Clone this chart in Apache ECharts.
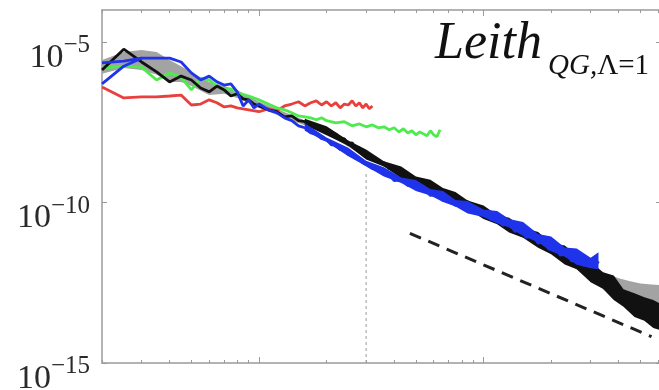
<!DOCTYPE html>
<html><head><meta charset="utf-8">
<script src="https://cdn.jsdelivr.net/npm/echarts@6/dist/echarts.min.js"></script>
<style>html,body{margin:0;padding:0;background:#fff}#c{width:659px;height:390px}</style>
</head><body><div id="c"></div>
<script>
// wavenumbers and log10 of spectral values
const kRed = [2,2.5,3,3.5,4,4.5,5,5.5,6,6.5,7,7.5,8,9,10,11,12,13,14,15,16,17,18,19,20,21,22,23,24,25,26,27,28,29,30,31,32];
const logRed = [-6.40,-6.74,-6.71,-6.71,-6.68,-6.65,-6.96,-6.93,-6.80,-6.89,-7.02,-6.99,-7.05,-7.11,-7.17,-7.08,-7.14,-6.99,-6.93,-6.86,-6.99,-6.89,-6.83,-6.96,-6.86,-6.99,-6.89,-7.05,-6.93,-6.96,-6.83,-6.99,-6.89,-7.05,-6.93,-7.08,-6.99];

const kGreen = [2,2.5,3,3.5,4,4.5,5,5.5,6,6.5,7,7.5,8,9,10,11,12,13,14,15,16,17,18,19,20,22,24,26,28,30,32,34,36,38,40,42,44,46,48,50,52,54,56,58,60,62,64];
const logGreen = [-5.81,-5.75,-5.78,-6.18,-5.96,-6.09,-6.49,-6.12,-6.18,-6.37,-6.49,-6.46,-6.58,-6.68,-6.80,-6.93,-7.05,-7.11,-7.20,-7.30,-7.33,-7.36,-7.42,-7.36,-7.45,-7.52,-7.48,-7.61,-7.55,-7.64,-7.58,-7.67,-7.64,-7.73,-7.67,-7.80,-7.70,-7.83,-7.76,-7.89,-7.80,-7.86,-7.92,-7.76,-7.89,-7.95,-7.73];

const kBlack = [2,2.5,3,3.5,4,4.5,5,5.5,6,6.5,7,7.5,8,8.5,9,9.5,10,11,12,13,14,15,16,17,18,19,20,21,22,23,24,25,26,27,28,29,30,32,34,36,38,40,43,46,49,52,55,58,62,66,70,75,80,85,90,96,102,108,115,122,130,138,146,155,165,175,185,196,208,220,233,247,262,278,295,312,330,350,370,392,415,440,466,494,523,554,586,620];
const logBlack = [-5.87,-5.22,-5.62,-5.93,-6.24,-6.06,-6.18,-6.43,-6.55,-6.37,-6.49,-6.68,-6.61,-6.77,-6.80,-6.93,-6.99,-7.11,-7.17,-7.33,-7.30,-7.45,-7.48,-7.61,-7.58,-7.76,-7.76,-7.92,-7.86,-8.04,-8.01,-8.20,-8.14,-8.32,-8.29,-8.45,-8.51,-8.60,-8.73,-8.76,-8.94,-8.94,-9.13,-9.10,-9.32,-9.29,-9.50,-9.44,-9.66,-9.63,-9.84,-9.78,-10.03,-9.97,-10.22,-10.16,-10.40,-10.31,-10.59,-10.50,-10.78,-10.68,-10.96,-10.87,-11.15,-11.06,-11.34,-11.24,-11.52,-11.43,-11.74,-11.65,-11.96,-11.86,-12.20,-12.08,-12.52,-12.33,-12.76,-12.58,-13.01,-12.83,-13.32,-13.07,-13.57,-13.26,-13.76,-13.45];

const kBlue = [2,2.5,3,3.5,4,4.5,5,5.5,6,6.5,7,7.5,8,8.5,9,9.5,10,11,12,13,14,15,16,17,18,19,20,21,22,23,24,25,26,27,28,29,30,32,34,36,38,40,43,46,49,52,55,58,62,66,70,75,80,85,90,96,102,108,115,122,130,138,146,155,165,175,185,196,208,220,233,247,262,278,295,312,325];
const logBlue = [-6.30,-5.75,-5.50,-5.50,-5.50,-5.62,-5.96,-6.18,-6.06,-6.24,-6.34,-6.30,-6.55,-6.99,-6.80,-7.05,-6.93,-7.11,-7.20,-7.36,-7.45,-7.61,-7.67,-7.83,-7.86,-8.01,-8.04,-8.20,-8.20,-8.35,-8.35,-8.51,-8.48,-8.63,-8.63,-8.76,-8.82,-8.94,-8.98,-9.13,-9.13,-9.32,-9.29,-9.47,-9.44,-9.63,-9.60,-9.78,-9.75,-9.94,-9.91,-10.09,-10.03,-10.22,-10.16,-10.37,-10.31,-10.53,-10.47,-10.71,-10.62,-10.90,-10.81,-11.09,-10.99,-11.27,-11.18,-11.46,-11.37,-11.65,-11.52,-11.83,-11.68,-11.96,-11.77,-12.02,-11.83];
// second short blue trace at the lowest wavenumbers
const kBlue2 = [2, 2.5, 3];
const logBlue2 = [-5.65, -5.59, -5.50];

// upper / lower edges of the noisy high-wavenumber spread of the black and blue spectra
const kBlackEnv = [16,20,25,30,36,43,50,58,66,75,85,100,115,130,150,175,200,230,260,300,340,380,420,470,520,570,620];
const logBlackHi = [-7.39,-7.62,-8.07,-8.35,-8.71,-8.88,-9.19,-9.29,-9.55,-9.67,-9.94,-10.09,-10.39,-10.47,-10.78,-10.92,-11.26,-11.34,-11.66,-11.83,-12.17,-12.27,-12.70,-12.83,-12.95,-13.04,-13.17];
const logBlackLo = [-7.58,-7.90,-8.23,-8.66,-8.88,-9.24,-9.41,-9.64,-9.78,-10.06,-10.20,-10.51,-10.68,-10.93,-11.10,-11.41,-11.61,-11.93,-12.08,-12.48,-12.69,-13.04,-13.25,-13.57,-13.68,-13.91,-13.99];
const kBlueEnv = [16,20,25,30,36,43,50,58,66,75,85,100,115,130,150,175,200,230,260,300,325];
const logBlueHi = [-7.53,-7.97,-8.29,-8.70,-8.90,-9.22,-9.30,-9.58,-9.64,-9.92,-9.95,-10.22,-10.26,-10.51,-10.61,-10.98,-11.06,-11.40,-11.43,-11.72,-11.55];
const logBlueLo = [-7.76,-8.11,-8.56,-8.87,-9.19,-9.39,-9.64,-9.78,-9.98,-10.12,-10.34,-10.45,-10.65,-10.78,-11.04,-11.24,-11.52,-11.69,-11.94,-12.05,-12.08];

// grey ensemble band around the reference spectrum
const kBand = [2,2.5,3,3.5,4,4.5,5,6,7,8,10,15,20,30,50,100,200,300,350,400,450,500,560,620];
const logBandHi = [-5.56,-5.31,-5.25,-5.31,-5.56,-5.75,-5.93,-6.24,-6.37,-6.49,-6.86,-7.36,-7.73,-8.48,-9.29,-10.28,-11.34,-11.96,-12.20,-12.36,-12.45,-12.52,-12.55,-12.58];
const logBandLo = [-5.99,-5.81,-5.87,-6.02,-6.24,-6.24,-6.37,-6.65,-6.61,-6.74,-7.05,-7.52,-7.86,-8.60,-9.41,-10.40,-11.52,-12.39,-12.76,-13.01,-13.26,-13.45,-13.63,-13.82];

// k^-3 reference slope and cutoff marker
const kSlope = [47, 560];
const valSlope = [1.1e-11, 6.6e-15];
const kCut = [30, 30];
const valCut = [1e-15, 9e-10];

const yTicks = [1e-15, 1e-10, 1e-5];
const xMajorTicks = [10, 100];
const xMinorTicks = [2,3,4,5,6,7,8,9,20,30,40,50,60,70,80,90,200,300,400,500,600];

const pts = (ks, ls) => ks.map((k, i) => [k, Math.pow(10, ls[i])]);

const AX = '#9a9a9a';
function xAx(pos, ticks, len, showLine) {
  return {
    type: 'log', logBase: 10, min: 2, max: 617, position: pos,
    axisLine: { show: showLine, onZero: false, lineStyle: { color: AX, width: 1.5 } },
    axisTick: { show: true, inside: true, length: len, customValues: ticks, lineStyle: { color: AX, width: 1 } },
    axisLabel: { show: false }, splitLine: { show: false }, minorTick: { show: false }
  };
}

const chart = echarts.init(document.getElementById('c'), null, { renderer: 'canvas' });
function envelope(ks, hiArr, loArr, fill) {
  return function (params, api) {
    const hi = ks.map((k, i) => api.coord([k, Math.pow(10, hiArr[i])]));
    const lo = ks.map((k, i) => api.coord([k, Math.pow(10, loArr[i])])).reverse();
    return { type: 'polygon', shape: { points: hi.concat(lo) }, style: { fill } };
  };
}
const envS = (ks, hiArr, loArr, fill, z) => ({
  type: 'custom', renderItem: envelope(ks, hiArr, loArr, fill), data: [[ks[0], Math.pow(10, hiArr[0])]],
  z, silent: true, animation: false, clip: true
});
const lineS = (name, data, color, w, z) => ({
  name, type: 'line', data, symbol: 'none', showSymbol: false, z,
  lineStyle: { color, width: w }, animation: false, silent: true
});

const BLACK = '#111111', BLUE = '#1f33ea';
chart.setOption({
  animation: false,
  backgroundColor: '#fff',
  title: [
    { text: 'Leith', left: 430, top: 13, textStyle: { fontFamily: 'Liberation Serif', fontStyle: 'italic', fontWeight: 'normal', fontSize: 52, color: '#111' } },
    { text: '{i|QG,}{u|Λ=1}', left: 543, top: 47, textStyle: { fontWeight: 'normal', rich: {
      i: { fontFamily: 'Liberation Serif', fontStyle: 'italic', fontWeight: 'normal', fontSize: 29, color: '#111' },
      u: { fontFamily: 'Liberation Serif', fontWeight: 'normal', fontSize: 29, color: '#111' } } } }
  ],
  grid: { left: 102, right: -2, top: 10, bottom: 27, containLabel: false, outerBoundsMode: 'none' },
  xAxis: [xAx('bottom', xMajorTicks, 6, true), xAx('bottom', xMinorTicks, 3, false), xAx('top', xMajorTicks, 6, true), xAx('top', xMinorTicks, 3, false)],
  yAxis: [
    { type: 'log', logBase: 10, min: 1e-15, max: 1e-4, position: 'left',
      axisLine: { show: true, onZero: false, lineStyle: { color: AX, width: 1.5 } },
      axisTick: { show: true, inside: true, length: 5, customValues: yTicks, lineStyle: { color: AX } },
      axisLabel: { customValues: yTicks, margin: 12, hideOverlap: false, align: 'right', verticalAlign: 'middle',
        padding: [32, 0, 0, 0],
        formatter: v => '{b|10}{s|\u2212' + Math.abs(Math.round(Math.log10(v))) + '}',
        rich: {
          b: { fontFamily: 'Liberation Serif', color: '#2a2a2a', fontSize: 34, lineHeight: 50, verticalAlign: 'middle' },
          s: { fontFamily: 'Liberation Serif', color: '#2a2a2a', fontSize: 25, lineHeight: 25, verticalAlign: 'top' }
        } },
      splitLine: { show: false } },
    { type: 'log', logBase: 10, min: 1e-15, max: 1e-4, position: 'right',
      axisLine: { show: false }, axisTick: { show: true, inside: true, length: 5, customValues: yTicks, lineStyle: { color: AX } },
      axisLabel: { show: false }, splitLine: { show: false } }
  ],
  series: [
    envS(kBand, logBandHi, logBandLo, '#a3a3a3', 1),
    Object.assign(lineS('cut', pts(kCut, valCut.map(Math.log10)), '#9c9c9c', 1, 2), { lineStyle: { color: '#9c9c9c', width: 1, type: [3, 3] } }),
    Object.assign(lineS('slope', pts(kSlope, valSlope.map(Math.log10)), '#222', 3, 3), { lineStyle: { color: '#222', width: 3, type: [12, 8] } }),
    lineS('red', pts(kRed, logRed), '#e8403c', 2.8, 4),
    lineS('green', pts(kGreen, logGreen), '#4deb4d', 2.8, 5),
    envS(kBlackEnv, logBlackHi, logBlackLo, BLACK, 6),
    lineS('black', pts(kBlack, logBlack), BLACK, 2.8, 6),
    envS(kBlueEnv, logBlueHi, logBlueLo, BLUE, 7),
    lineS('blue', pts(kBlue, logBlue), BLUE, 2.8, 7),
    lineS('blue2', pts(kBlue2, logBlue2), BLUE, 2.8, 7)
  ]
});
</script></body></html>
